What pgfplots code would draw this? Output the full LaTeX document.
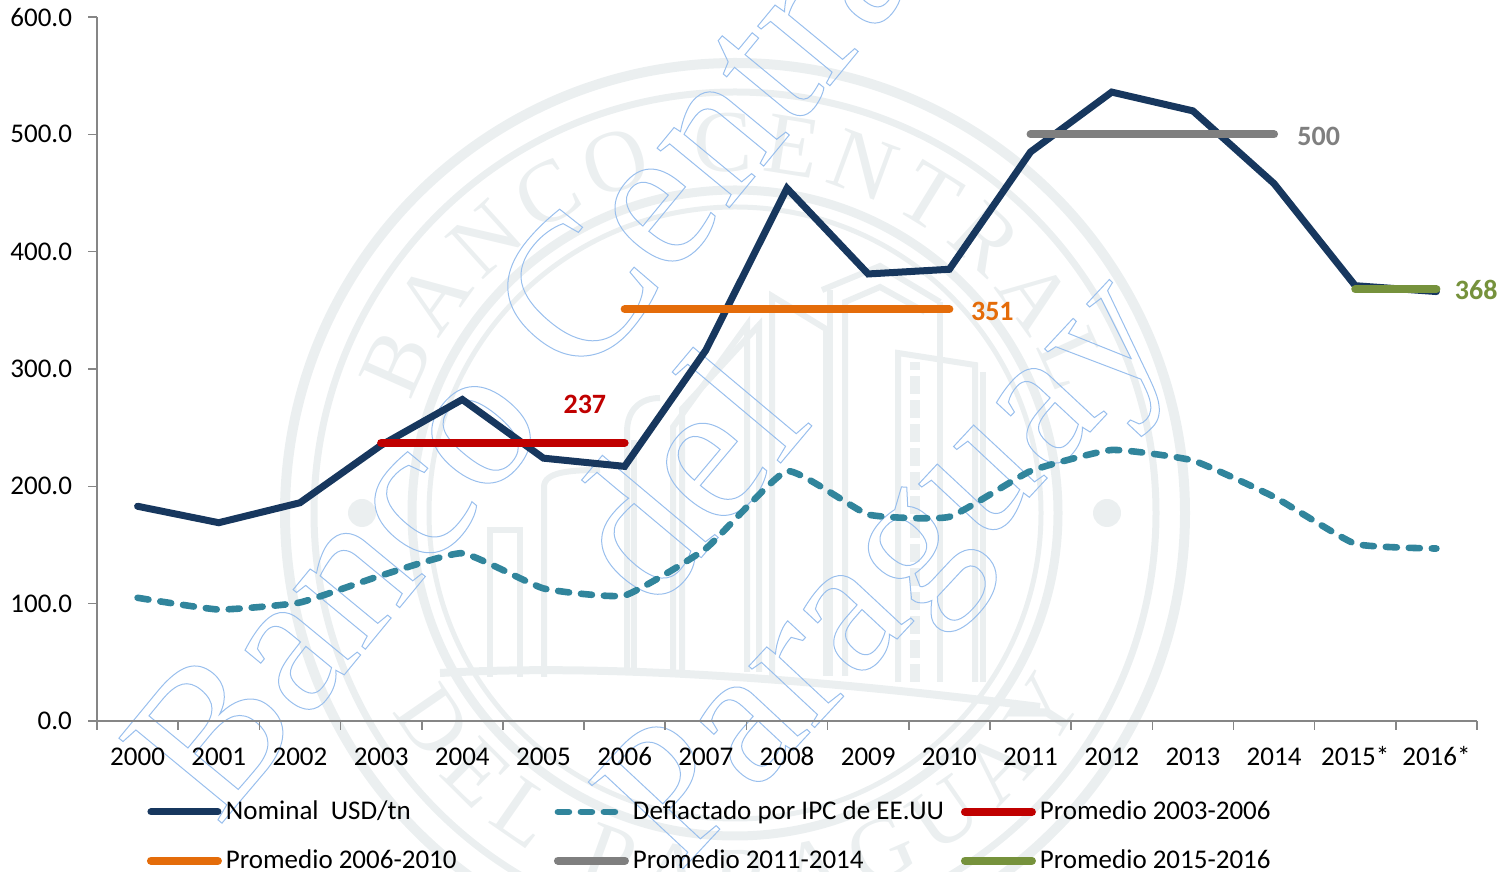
\documentclass[border=0pt]{standalone}
\usepackage{fontspec}
\setmainfont{Carlito}
\newfontfamily\wmfont{Liberation Serif}
\newfontfamily\sealfont{Liberation Serif}
\usepackage{pgfplots}
\pgfplotsset{compat=1.18}
\usetikzlibrary{decorations.text}
\definecolor{navy}{HTML}{17375E}
\definecolor{teal2}{HTML}{31859C}
\definecolor{redc}{HTML}{C00000}
\definecolor{orangec}{HTML}{E46C0A}
\definecolor{grayc}{HTML}{7F7F7F}
\definecolor{greenc}{HTML}{76923C}
\definecolor{axisc}{HTML}{868686}
\definecolor{seal}{HTML}{EBEFF0}
\newcommand{\wm}[1]{\special{pdf:code 1 Tr 0.5 w 0.60 0.75 0.93 RG}#1\special{pdf:code 0 Tr 0 0 0 RG}}
\begin{document}
\begin{tikzpicture}[x=0.5pt,y=0.5pt]
\useasboundingbox (0,0) rectangle (1505,872);
\begin{scope}
\clip (0,0) rectangle (1505,872);
% seal
\begin{scope}[draw=seal,line width=5pt]
\draw (735,359) circle (450);
\draw[line width=3.5pt] (735,359) circle (421);
\draw[line width=4.5pt] (735,359) circle (323);
\draw[line width=2.5pt] (735,359) circle (306);
\end{scope}
\fill[seal] (362,359) circle (14);
\fill[seal] (1107,359) circle (14);
\path[decorate,decoration={text along path,text align=fit to path,
 text={|\fontsize{44pt}{44pt}\sealfont\color{seal}|BANCO CENTRAL}}]
 (735,359)+(161:342) arc (161:20:342);
\path[decorate,decoration={text along path,text align=fit to path,
 text={|\fontsize{44pt}{44pt}\sealfont\color{seal}|DEL PARAGUAY}}]
 (735,359)+(210:395) arc (210:332:395);
% building
\begin{scope}[draw=seal,line width=3pt]
\draw[line width=4pt] (440,199) .. controls (600,208) and (800,195) .. (1040,165);
\draw (490,195) -- (490,342) -- (520,342) -- (520,195);
\draw (544,195) -- (544,385) .. controls (544,400) and (570,402) .. (600,402);
\draw (627,200) -- (627,440) .. controls (627,462) and (640,474) .. (660,474);
\draw (634,200) -- (634,432);
\draw (673,200) -- (673,445) -- (747,547) -- (747,200);
\draw (682,200) -- (682,463) -- (759,547) -- (759,200);
\draw (772,196) -- (772,576) -- (826,543) -- (826,196);
\draw (822,582) -- (880,606) -- (940,570);
\draw (830,196) -- (830,582);
\draw (845,196) -- (845,570) -- (880,585) -- (925,560);
\draw (940,190) -- (940,570);
\draw (898,190) -- (898,519) -- (975,507) -- (975,190);
\draw (983,190) -- (983,500);
\draw[line width=5pt,dash pattern=on 9pt off 3pt] (915,190) -- (915,510);
\end{scope}
\end{scope}
% watermark
\begin{scope}
\clip (0,0) rectangle (1505,872);
\node[anchor=base west,rotate=50.5,inner sep=0pt,font=\fontsize{102pt}{102pt}\wmfont] at (218,44) {\wm{Banco Central}};
\node[anchor=base west,rotate=50,inner sep=0pt,font=\fontsize{102pt}{102pt}\wmfont] at (654,258) {\wm{del}};
\node[anchor=base west,rotate=47,inner sep=0pt,font=\fontsize{98pt}{98pt}\wmfont] at (678,-2) {\wm{Paraguay}};
\end{scope}
\begin{axis}[
 at={(48.5pt,75.5pt)},anchor=south west,scale only axis,
 width=690pt,height=352pt,
 xmin=-0.5,xmax=16.5,ymin=0,ymax=600,
 axis lines*=left,
 axis line style={axisc,line width=1pt,-},
 tick style={axisc,line width=0.8pt},
 tick align=outside,
 xtick={0,...,16},
 xticklabels={2000,2001,2002,2003,2004,2005,2006,2007,2008,2009,2010,2011,2012,2013,2014,2015*,2016*},
 major x tick style={draw=none},
 minor xtick={-0.5,0.5,...,16.5},
 minor tick length=4.5pt,
 major tick length=4.5pt,
 ytick={0,100,200,300,400,500,600},
 /pgf/number format/fixed,
 /pgf/number format/fixed zerofill,
 /pgf/number format/precision=1,
 /pgf/number format/assume math mode=true,
 tick label style={font=\fontsize{13.5pt}{13.5pt}\selectfont,text=black},
 xticklabel style={text height=9.5pt,text depth=0pt,yshift=-4.5pt},
 yticklabel style={xshift=-4.5pt},
 clip=false,
 legend columns=3,
 legend cell align=left,
 legend style={draw=none,fill=none,at={(0.0362,-0.108)},anchor=north west,
   inner sep=0pt,outer sep=0pt,
   /tikz/row sep=9.5pt,
   font=\fontsize{13.5pt}{13.5pt}\selectfont},
 legend image code/.code={\draw[#1] (0pt,0pt) -- (33.5pt,0pt);},
]
\addplot[navy,line width=3.5pt,line join=miter,line cap=round] coordinates {
(0,183)(1,169)(2,186)(3,235)(4,274)(5,224)(6,217)(7,316)(8,454)(9,381)(10,385)(11,485)(12,536)(13,520)(14,458)(15,371)(16,366)};
\addlegendentry{\makebox[162pt][l]{Nominal\ \ USD/tn}}
\addplot[teal2,line width=3.3pt,line cap=round,dash pattern=on 5.5pt off 6pt,smooth,tension=0.25] coordinates {
(0,105)(1,95)(2,101)(3,124)(4,143)(5,113)(6,107)(7,147)(8,213)(9,176)(10,174)(11,213)(12,231)(13,222)(14,191)(15,151)(16,147)};
\addlegendentry{\makebox[162pt][l]{Deflactado por IPC de EE.UU}}
\addplot[redc,line width=4pt,line cap=round] coordinates {(3,237)(6,237)};
\addlegendentry{Promedio 2003-2006}
\addplot[orangec,line width=4pt,line cap=round] coordinates {(6,351)(10,351)};
\addlegendentry{\makebox[162pt][l]{Promedio 2006-2010}}
\addplot[grayc,line width=4pt,line cap=round] coordinates {(11,500)(14,500)};
\addlegendentry{\makebox[162pt][l]{Promedio 2011-2014}}
\addplot[greenc,line width=4pt,line cap=round] coordinates {(15,368)(16,368)};
\addlegendentry{Promedio 2015-2016}
\node[text=redc,font=\fontsize{14pt}{14pt}\bfseries] at (axis cs:5.51,270) {237};
\node[text=orangec,font=\fontsize{14pt}{14pt}\bfseries] at (axis cs:10.53,349) {351};
\node[text=grayc,font=\fontsize{14pt}{14pt}\bfseries] at (axis cs:14.55,498.5) {500};
\node[text=greenc,font=\fontsize{14pt}{14pt}\bfseries] at (axis cs:16.49,367) {368};
\end{axis}
\end{tikzpicture}
\end{document}
